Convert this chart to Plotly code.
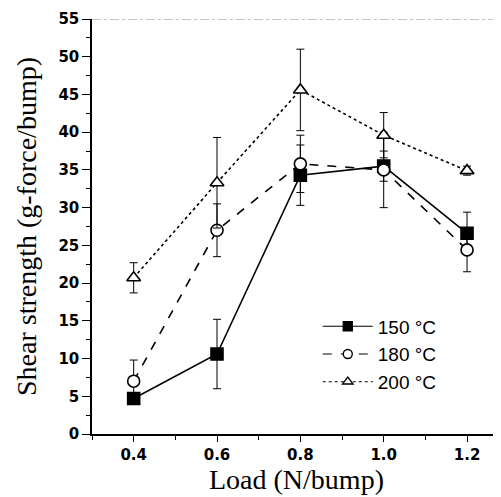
import plotly.graph_objects as go

loads = [0.4, 0.6, 0.8, 1.0, 1.2]
s150 = [4.7, 10.6, 34.3, 35.5, 26.6]
e150 = [0.4, 4.6, 4.0, 2.0, 2.8]
s180 = [7.0, 27.0, 35.8, 35.0, 24.4]
e180 = [2.8, 3.5, 3.8, 5.0, 2.9]
s200 = [20.7, 33.3, 45.6, 39.6, 34.9]
e200 = [2.0, 6.0, 5.4, 3.0, 0.6]

names = ["150 °C", "180 °C", "200 °C"]
xticks = [0.4, 0.6, 0.8, 1.0, 1.2]
xticklabels = ["0.4", "0.6", "0.8", "1.0", "1.2"]

fig = go.Figure()
styles = [
    dict(dash="solid", symbol="square", fill="black"),
    dict(dash="dash", symbol="circle", fill="white"),
    dict(dash="dot", symbol="triangle-up", fill="white"),
]
for name, ys, es, st in zip(names, [s150, s180, s200], [e150, e180, e200], styles):
    fig.add_trace(go.Scatter(
        x=loads, y=ys, name=name, mode="lines+markers", showlegend=False,
        line=dict(color="black", width=1.6, dash=st["dash"]),
        marker=dict(symbol=st["symbol"], size=12, color=st["fill"],
                    line=dict(color="black", width=1.6)),
        error_y=dict(type="data", array=es, visible=True, color="black",
                     thickness=1, width=4),
    ))
# legend entries (smaller symbols, as in the reference legend)
for name, st in zip(names, styles):
    fig.add_trace(go.Scatter(
        x=[None], y=[None], name=name, mode="lines+markers",
        line=dict(color="black", width=1.1, dash=st["dash"]),
        marker=dict(symbol=st["symbol"], size=9, color=st["fill"],
                    line=dict(color="black", width=1.4)),
    ))

fig.add_shape(type="line", xref="paper", yref="y", x0=0, x1=1, y0=55, y1=55,
              line=dict(color="#888", width=1, dash="dashdot"))

fig.update_layout(
    width=493, height=489,
    margin=dict(l=84, r=0, t=11, b=63),
    plot_bgcolor="white", paper_bgcolor="white",
    showlegend=True,
    legend=dict(x=0.552, y=0.305, xanchor="left", yanchor="top",
                font=dict(family="Liberation Sans", size=19, color="black"),
                itemwidth=50, bgcolor="rgba(0,0,0,0)"),
    xaxis=dict(range=[0.3, 1.2815], tickvals=xticks, ticktext=xticklabels,
               ticks="outside", ticklen=6, tickwidth=1.2, tickcolor="black",
               minor=dict(dtick=0.1, tick0=0.3, ticks="outside", ticklen=4, tickcolor="black"),
               showline=True, linecolor="black", linewidth=1.5, showgrid=False, zeroline=False,
               tickfont=dict(family="DejaVu Sans", size=15, color="black", weight="bold"),
               title=dict(text="Load (N/bump)", standoff=0,
                          font=dict(family="Liberation Serif", size=28, color="black"))),
    yaxis=dict(range=[0, 55], dtick=5, tick0=0,
               ticks="outside", ticklen=8, tickwidth=1.2, tickcolor="black",
               minor=dict(dtick=2.5, ticks="outside", ticklen=4, tickcolor="black"),
               showline=True, linecolor="black", linewidth=1.5, showgrid=False, zeroline=False,
               tickfont=dict(family="DejaVu Sans", size=15, color="black", weight="bold"),
               title=dict(text="Shear strength (g-force/bump)", standoff=14,
                          font=dict(family="Liberation Serif", size=28, color="black"))),
)

fig.write_html("out.html")
